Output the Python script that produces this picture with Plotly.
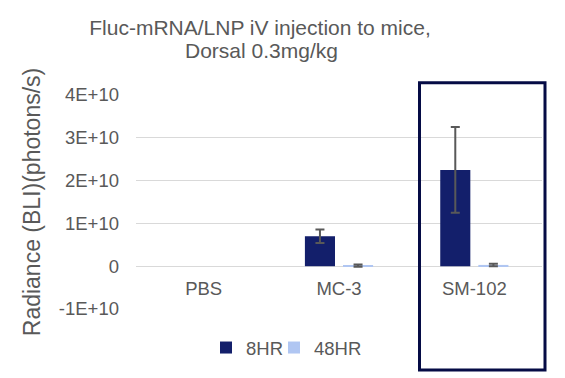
import plotly.graph_objects as go

categories = ["PBS", "MC-3", "SM-102"]
hr8_values = [None, 7.0e9, 2.25e10]
hr8_errors = [0, 1.6e9, 1.0e10]
hr48_values = [None, 1.5e8, 3.0e8]
hr48_errors = [0, 2.5e8, 3.0e8]
tick_vals = [-1e10, 0, 1e10, 2e10, 3e10, 4e10]
tick_text = ["-1E+10", "0", "1E+10", "2E+10", "3E+10", "4E+10"]
title_line1 = "Fluc-mRNA/LNP iV injection to mice,"
title_line2 = "Dorsal 0.3mg/kg"

FONT = "Liberation Sans, Arial, sans-serif"
GREY = "#595959"

L, R, T, B = 136, 23, 95, 69
PW, PH = 565 - L - R, 378 - T - B


def px_x(p):
    return (p - L) / PW


def px_y(p):
    return (378 - B - p) / PH


fig = go.Figure()
fig.add_trace(go.Bar(
    name="8HR", x=categories, y=hr8_values, legend="legend",
    marker=dict(color="#131F6B", line=dict(width=0)),
    error_y=dict(type="data", array=hr8_errors, visible=True,
                 color=GREY, thickness=2, width=4.5),
))
fig.add_trace(go.Bar(
    name="48HR", x=categories, y=hr48_values, legend="legend2",
    marker=dict(color="#B0C6F2", line=dict(width=0)),
    error_y=dict(type="data", array=hr48_errors, visible=True,
                 color=GREY, thickness=2, width=4.5),
))

legend_common = dict(
    orientation="h", xanchor="left", y=px_y(348), yanchor="middle",
    font=dict(family=FONT, size=18.5, color=GREY),
    bgcolor="rgba(0,0,0,0)", itemwidth=30,
)

fig.update_layout(
    width=565, height=378,
    margin=dict(l=L, r=R, t=T, b=B, autoexpand=False),
    paper_bgcolor="white", plot_bgcolor="white",
    font=dict(family=FONT, color=GREY, size=18.5),
    barmode="group", bargap=0.437, bargroupgap=0.21,
    title=dict(
        text=title_line1,
        x=260 / 565, xanchor="center", xref="container",
        y=1 - 28 / 378, yanchor="middle", yref="container",
        font=dict(family=FONT, size=21, color=GREY),
    ),
    annotations=[dict(
        text=title_line2, xref="paper", yref="paper",
        x=px_x(261), y=px_y(50.5), xanchor="center", yanchor="middle",
        showarrow=False, font=dict(family=FONT, size=21, color=GREY),
    )],
    showlegend=True,
    legend=dict(x=px_x(220 - 14), **legend_common),
    legend2=dict(x=px_x(288 - 14), **legend_common),
    xaxis=dict(
        anchor="free", position=0.2,
        showgrid=False, showline=False, zeroline=False,
        ticks="", ticklabelstandoff=9,
        tickfont=dict(family=FONT, size=18.5, color=GREY),
    ),
    yaxis=dict(
        range=[-1e10, 4e10], tickvals=tick_vals, ticktext=tick_text,
        showgrid=True, gridcolor="#D9D9D9", gridwidth=1.3,
        zeroline=True, zerolinecolor="#D9D9D9", zerolinewidth=1.3,
        showline=False, ticks="", ticklabelstandoff=16,
        tickfont=dict(family=FONT, size=18.5, color=GREY),
        title=dict(text="Radiance (BLI)(photons/s)", standoff=11,
                   font=dict(family=FONT, size=23, color=GREY)),
    ),
    shapes=[dict(
        type="rect", xref="paper", yref="paper",
        x0=px_x(419.5), x1=px_x(545),
        y0=px_y(370), y1=px_y(82.7),
        line=dict(color="#050B45", width=3), layer="above",
    )],
)

fig.write_html("out.html", config={"displayModeBar": False},
               post_script="document.body.style.margin='0';")
